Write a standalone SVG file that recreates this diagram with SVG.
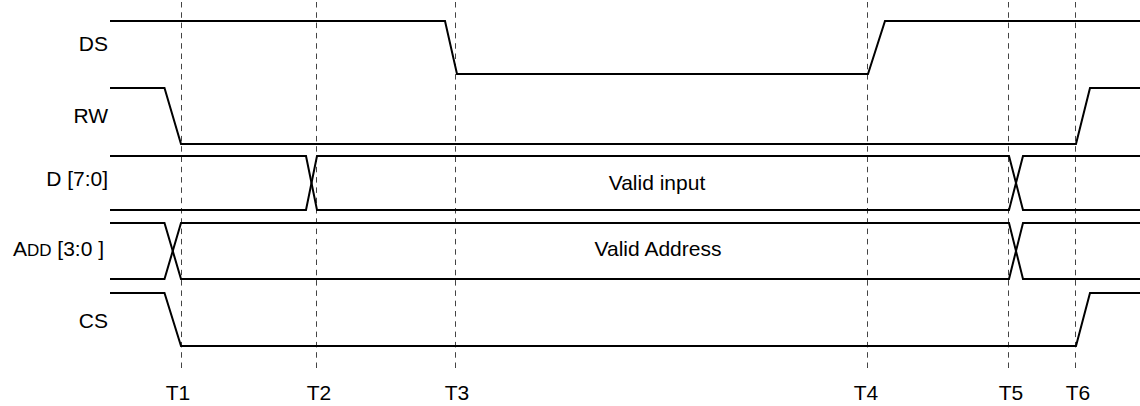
<svg xmlns="http://www.w3.org/2000/svg" width="1140" height="406" viewBox="0 0 1140 406">
<style>
.sig{fill:none;stroke:#000;stroke-width:2;stroke-linejoin:miter}
.grid{fill:none;stroke:#444;stroke-width:1;stroke-dasharray:5.5 4.8}
text{font-family:"Liberation Sans",Arial,sans-serif;font-size:21px;fill:#000}
.lbl{text-anchor:end}
.mid{text-anchor:middle}
</style>
<rect width="1140" height="406" fill="#fff"/>
<g id="time-markers">
<line class="grid" x1="181.5" y1="2" x2="181.5" y2="369"/>
<line class="grid" x1="316.5" y1="2" x2="316.5" y2="369"/>
<line class="grid" x1="455.5" y1="2" x2="455.5" y2="369"/>
<line class="grid" x1="867.5" y1="2" x2="867.5" y2="369"/>
<line class="grid" x1="1008.5" y1="2" x2="1008.5" y2="369"/>
<line class="grid" x1="1075.5" y1="2" x2="1075.5" y2="369"/>
<text class="mid" x="178" y="400">T1</text>
<text class="mid" x="319" y="400">T2</text>
<text class="mid" x="457" y="400">T3</text>
<text class="mid" x="866" y="400">T4</text>
<text class="mid" x="1011" y="400">T5</text>
<text class="mid" x="1078" y="400">T6</text>
</g>
<g id="DS">
<text class="lbl" x="108" y="51">DS</text>
<path class="sig" d="M110,21 H445 L457,74 H868 L885,21 H1140"/>
</g>
<g id="RW">
<text class="lbl" x="108" y="123">RW</text>
<path class="sig" d="M110,88 H164.5 L181,144 H1076 L1090,88 H1140"/>
</g>
<g id="D">
<text class="lbl" x="108" y="186">D [7:0]</text>
<path class="sig" d="M110,156 H306 L317,210 H1009 L1023,156 H1140"/>
<path class="sig" d="M110,210 H306 L317,156 H1009 L1023,210 H1140"/>
<text class="mid" x="657" y="190">Valid input</text>
</g>
<g id="ADD">
<text class="lbl" x="104" y="256">A<tspan font-size="17">DD</tspan> [3:0 ]</text>
<path class="sig" d="M110,223 H164.5 L181,279 H1009 L1023,223 H1140"/>
<path class="sig" d="M110,279 H164.5 L181,223 H1009 L1023,279 H1140"/>
<text class="mid" x="658" y="256">Valid Address</text>
</g>
<g id="CS">
<text class="lbl" x="108" y="328">CS</text>
<path class="sig" d="M110,293 H164.5 L181,346 H1076 L1090,293 H1140"/>
</g>
</svg>
